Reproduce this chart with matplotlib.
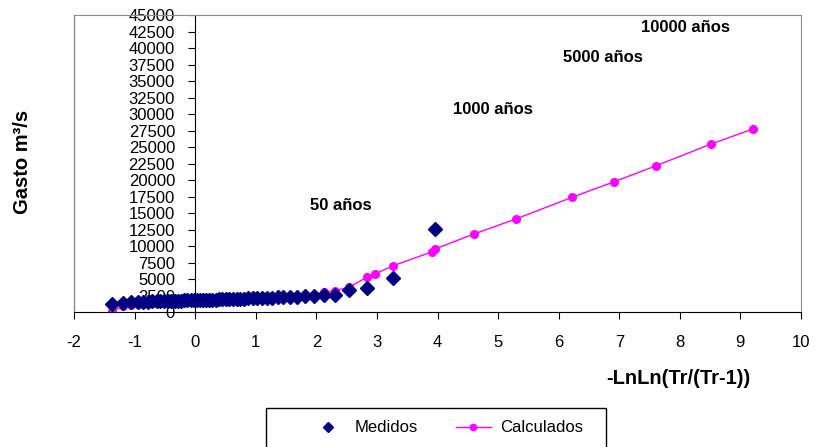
import matplotlib
matplotlib.use("Agg")
import matplotlib.pyplot as plt
from matplotlib.lines import Line2D
from matplotlib.patches import Rectangle

plt.rcParams['font.family'] = ['Liberation Sans', 'DejaVu Sans']
plt.rcParams['axes.unicode_minus'] = False

# measured floods, x = -LnLn(Tr/(Tr-1))
x_med = [-1.379, -1.187, -1.055, -0.949, -0.859, -0.779, -0.705, -0.637, -0.573, -0.511,
         -0.453, -0.396, -0.340, -0.286, -0.233, -0.180, -0.128, -0.077, -0.026, 0.026,
         0.077, 0.129, 0.181, 0.233, 0.286, 0.339, 0.394, 0.449, 0.506, 0.564,
         0.623, 0.684, 0.747, 0.812, 0.880, 0.950, 1.023, 1.101, 1.182, 1.268,
         1.360, 1.458, 1.565, 1.682, 1.810, 1.954, 2.119, 2.312, 2.545, 2.843,
         3.258, 3.961]
q_med = [1230, 1430, 1520, 1560, 1600, 1630, 1650, 1670, 1690, 1700,
         1720, 1730, 1750, 1760, 1780, 1790, 1800, 1820, 1830, 1850,
         1860, 1880, 1890, 1900, 1920, 1930, 1950, 1960, 1980, 2000,
         2020, 2040, 2060, 2080, 2100, 2120, 2150, 2180, 2210, 2240,
         2270, 2300, 2340, 2380, 2430, 2490, 2600, 2650, 3450, 3630,
         5240, 12610]

# calculated values
x_cal = [-1.379, -1.187, -1.055, -0.949, -0.859, -0.779, -0.705, -0.637, -0.573, -0.511,
         -0.453, -0.396, -0.340, -0.286, -0.233, -0.180, -0.128, -0.077, -0.026, 0.026,
         0.077, 0.129, 0.181, 0.233, 0.286, 0.339, 0.394, 0.449, 0.506, 0.564,
         0.623, 0.684, 0.747, 0.812, 0.880, 0.950, 1.023, 1.101, 1.182, 1.268,
         1.360, 1.458, 1.565, 1.682, 1.810, 1.954, 2.119, 2.312, 2.545, 2.843,
         2.970, 3.258, 3.902, 3.961, 4.600, 5.296, 6.214, 6.907, 7.600, 8.517,
         9.210]
q_cal = [150, 900, 1150, 1250, 1300, 1340, 1370, 1400, 1420, 1440,
         1460, 1480, 1500, 1520, 1540, 1560, 1580, 1600, 1620, 1640,
         1660, 1680, 1700, 1720, 1740, 1760, 1780, 1800, 1820, 1840,
         1860, 1880, 1900, 1930, 1960, 1990, 2020, 2060, 2100, 2140,
         2180, 2230, 2280, 2340, 2420, 2560, 3100, 3250, 3830, 5340,
         5800, 7010, 9130, 9580, 11850, 14130, 17380, 19730, 22150, 25480,
         27750]

notes = ["50 años", "1000 años", "5000 años", "10000 años"]
note_x = [2.41, 4.91, 6.73, 8.10]
note_y = [16090, 30770, 38500, 43040]

W, H = 816, 447
fig = plt.figure(figsize=(W / 100, H / 100), dpi=100)
ax = fig.add_axes([74 / W, 1 - 312.3 / H, (801 - 74) / W, (312.3 - 15) / H])

ax.plot(x_cal, q_cal, color='#FF00FF', lw=1.0, marker='o', ms=5.5, zorder=2)
ax.plot(x_med, q_med, ls='none', marker='D', ms=7.5, color='#000080', zorder=3)

ax.set_xlim(-2, 10)
ax.set_ylim(0, 45000)
ax.set_xticks(range(-2, 11))
ax.set_yticks(range(0, 45001, 2500))

for s in ['top', 'right']:
    ax.spines[s].set_color('#8c8c8c')
ax.spines['left'].set_position(('data', 0))
ax.spines['left'].set_color('black')
ax.spines['bottom'].set_color('black')
ax.axvline(-2, color='#8c8c8c', lw=1.0, clip_on=False)

ax.tick_params(axis='x', direction='out', length=5, pad=11, labelsize=12)
ax.tick_params(axis='y', direction='out', length=5, pad=9.5, labelsize=12)

for t, xx, yy in zip(notes, note_x, note_y):
    ax.text(xx, yy, t, ha='center', va='center', fontsize=12, fontweight='bold')

fig.text(23 / W, 1 - 162 / H, "Gasto m³/s", rotation=90, ha='center', va='center',
         fontsize=14.5, fontweight='bold')
fig.text(678 / W, 1 - 379 / H, "-LnLn(Tr/(Tr-1))", ha='center', va='center',
         fontsize=14.5, fontweight='bold')

# legend box runs off the bottom of the image
fig.patches.append(Rectangle((266 / W, -0.05), (606 - 266) / W, 0.05 + 1 - 408 / H,
                             transform=fig.transFigure, fill=False, edgecolor='black', lw=1.0))
handles = [Line2D([], [], ls='none', marker='D', ms=5.5, color='#000080'),
           Line2D([], [], color='#FF00FF', lw=1.0, marker='o', ms=4.5)]
fig.legend(handles, ["Medidos", "Calculados"], loc='center left',
           bbox_to_anchor=(310 / W, 1 - 428 / H), ncol=2, frameon=False,
           borderpad=0, borderaxespad=0, handlelength=2.1, handletextpad=0.55,
           columnspacing=2.3, fontsize=12)

fig.savefig("out.png", dpi=100)
